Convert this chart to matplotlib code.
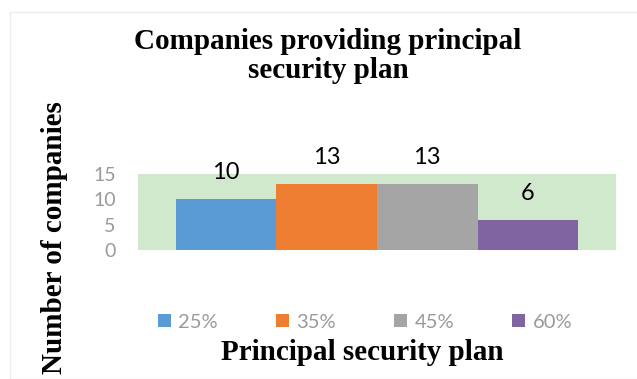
import matplotlib.pyplot as plt
from matplotlib.patches import Rectangle

plans = ['25%', '35%', '45%', '60%']
companies = [10, 13, 13, 6]
colors = ['#5b9bd5', '#ed7d31', '#a5a5a5', '#8064a2']

fig = plt.figure(figsize=(6.37, 3.79), dpi=100)
# faint chart border
fig.patches.append(Rectangle((10/637, 0), 1, 1 - 12/379, transform=fig.transFigure,
                             fill=False, edgecolor='#ececec', linewidth=1))

ax = fig.add_axes([138/637, 1 - 250/379, 478/637, 76/379])
ax.set_facecolor('#d0e9cc')

for i, (p, v) in enumerate(zip(plans, companies)):
    ax.bar(i, v, width=1.0, color=colors[i], label=p, zorder=3)
    ax.annotate(str(v), (i, v), xytext=(0, 19), textcoords='offset points',
                ha='center', va='center', fontsize=17, family='Lato', color='black')

ax.set_xlim(-0.878, 3.878)
ax.set_ylim(0, 15)
ax.set_yticks([0, 5, 10, 15])
ax.set_xticks([])
ax.tick_params(axis='y', length=0, pad=16, labelsize=14, labelcolor='#9a9a9a')
for t in ax.get_yticklabels():
    t.set_family('Lato')
for s in ax.spines.values():
    s.set_visible(False)

fig.text(328/637, 1 - 56/379, 'Companies providing principal\nsecurity plan', ha='center',
         va='center', family='Liberation Serif', fontweight='bold', fontsize=21,
         linespacing=1.1)
fig.text(362/637, 1 - 352/379, 'Principal security plan', ha='center', va='center',
         family='Liberation Serif', fontweight='bold', fontsize=21)
fig.text(55/637, 1 - 238/379, 'Number of companies', ha='center', va='center',
         rotation=90, family='Liberation Serif', fontweight='bold', fontsize=21)

leg = fig.legend(loc='center', bbox_to_anchor=(365/637, 1 - 322/379), ncol=4,
                 frameon=False, handlelength=0.65, handleheight=0.65, handletextpad=0.35,
                 columnspacing=2.9, prop={'family': 'Lato', 'size': 14.5})
for t in leg.get_texts():
    t.set_color('#9a9a9a')

plt.savefig('out.png', dpi=100)
